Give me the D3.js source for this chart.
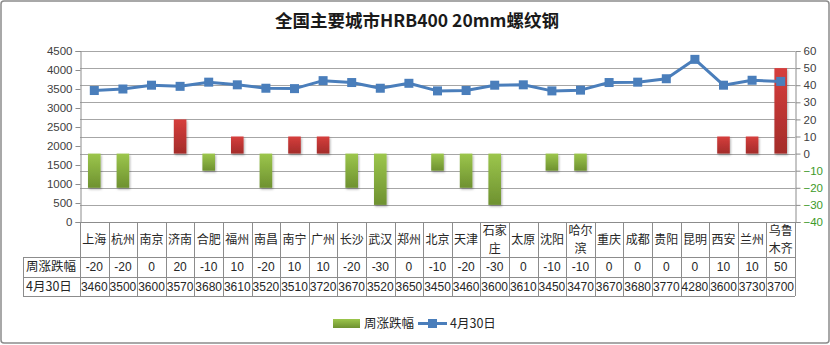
<!DOCTYPE html>
<html>
<head>
<meta charset="utf-8">
<script src="https://cdn.jsdelivr.net/npm/d3@7"></script>
<style>
  html, body { margin: 0; padding: 0; background: #fff; }
  svg { display: block; }
  text { font-family: "Liberation Sans", "Noto Sans CJK SC", sans-serif; }
  .cjk { font-family: "Noto Sans CJK SC", "Liberation Sans", sans-serif; }
</style>
</head>
<body>
<script>
// City list, weekly change (bars, right axis) and 30 April price (line, left axis)
const cities = ["上海","杭州","南京","济南","合肥","福州","南昌","南宁","广州","长沙","武汉","郑州","北京","天津","石家庄","太原","沈阳","哈尔滨","重庆","成都","贵阳","昆明","西安","兰州","乌鲁木齐"];
const weeklyChange = [-20,-20,0,20,-10,10,-20,10,10,-20,-30,0,-10,-20,-30,0,-10,-10,0,0,0,0,10,10,50];
const priceApr30 = [3460,3500,3600,3570,3680,3610,3520,3510,3720,3670,3520,3650,3450,3460,3600,3610,3450,3470,3670,3680,3770,4280,3600,3730,3700];
const leftTicks = [0,500,1000,1500,2000,2500,3000,3500,4000,4500];
const rightTicks = [-40,-30,-20,-10,0,10,20,30,40,50,60];
const seriesNames = ["周涨跌幅","4月30日"];
const title = "全国主要城市HRB400 20mm螺纹钢";

const W = 830, H = 345;
const plot = { left: 80, right: 795, top: 51, bottom: 222 };
const table = { labelLeft: 23, row0: 222, row1: 257, row2: 276.5, row3: 296 };

const svg = d3.select("body").append("svg").attr("width", W).attr("height", H);

// gradients for the bars
const defs = svg.append("defs");
function grad(id, c1, c2) {
  const g = defs.append("linearGradient").attr("id", id)
    .attr("x1", 0).attr("y1", 0).attr("x2", 0).attr("y2", 1);
  g.append("stop").attr("offset", "0%").attr("stop-color", c1);
  g.append("stop").attr("offset", "100%").attr("stop-color", c2);
}
grad("gGreen", "#9cc64c", "#6e9130");
grad("gRed", "#d63e3c", "#a32c2a");
const sh = defs.append("filter").attr("id", "shadow").attr("x", "-30%").attr("y", "-10%").attr("width", "160%").attr("height", "130%");
sh.append("feDropShadow").attr("dx", 1).attr("dy", 1.5).attr("stdDeviation", 1.2).attr("flood-color", "#000").attr("flood-opacity", 0.3);

// outer frame
svg.append("rect").attr("x", 1).attr("y", 1).attr("width", W - 2).attr("height", H - 3)
  .attr("fill", "#fff").attr("stroke", "#8c8c8c").attr("stroke-width", 1.5).attr("rx", 3);

// title
svg.append("text").attr("class", "cjk").attr("x", 417).attr("y", 27)
  .attr("text-anchor", "middle").attr("font-size", 17.5).attr("font-weight", 700)
  .attr("fill", "#1a1a1a").text(title);

const x = d3.scaleBand().domain(cities).range([plot.left, plot.right]).padding(0);
const yL = d3.scaleLinear().domain([0, 4500]).range([plot.bottom, plot.top]);
const yR = d3.scaleLinear().domain([-40, 60]).range([plot.bottom, plot.top]);

// horizontal gridlines follow the right-axis ticks
svg.append("g").selectAll("line").data(rightTicks.filter(d => d !== -40)).join("line")
  .attr("x1", plot.left).attr("x2", plot.right)
  .attr("y1", d => Math.round(yR(d)) + 0.5).attr("y2", d => Math.round(yR(d)) + 0.5)
  .attr("stroke", "#a6a6a6").attr("stroke-width", 1);

// left axis
const axL = svg.append("g").attr("transform", `translate(${plot.left + 0.5},0)`)
  .call(d3.axisLeft(yL).tickValues(leftTicks).tickSize(5).tickPadding(3).tickFormat(d3.format("d")));
axL.select(".domain").attr("stroke", "#8c8c8c");
axL.selectAll(".tick line").attr("stroke", "#8c8c8c");
axL.selectAll(".tick text").attr("font-size", 11.5).attr("fill", "#404040")
  .style("font-family", "Liberation Sans");

// right axis
const axR = svg.append("g").attr("transform", `translate(${plot.right + 0.5},0)`)
  .call(d3.axisRight(yR).tickValues(rightTicks).tickSize(5).tickPadding(3).tickFormat(d3.format("d")));
axR.select(".domain").attr("stroke", "#8c8c8c");
axR.selectAll(".tick line").attr("stroke", "#8c8c8c");
axR.selectAll(".tick text").attr("font-size", 11.5)
  .attr("fill", d => d < 0 ? "#3c9a28" : "#404040")
  .style("font-family", "Liberation Sans");

// bars: weekly change
const bw = x.bandwidth() * 0.44;
svg.append("g").selectAll("rect").data(cities.map((c, i) => ({ c, v: weeklyChange[i] })).filter(d => d.v !== 0))
  .join("rect")
  .attr("x", d => x(d.c) + (x.bandwidth() - bw) / 2)
  .attr("width", bw)
  .attr("y", d => Math.min(yR(d.v), yR(0)))
  .attr("height", d => Math.abs(yR(d.v) - yR(0)))
  .attr("fill", d => d.v < 0 ? "url(#gGreen)" : "url(#gRed)")
  .attr("filter", "url(#shadow)");

// line: 30 April price
const pts = cities.map((c, i) => [x(c) + x.bandwidth() / 2, yL(priceApr30[i])]);
svg.append("path").attr("d", d3.line()(pts)).attr("fill", "none")
  .attr("stroke", "#4a7ebb").attr("stroke-width", 3).attr("stroke-linejoin", "round");
const ms = 9;
svg.append("g").selectAll("rect").data(pts).join("rect")
  .attr("x", d => d[0] - ms / 2).attr("y", d => d[1] - ms / 2)
  .attr("width", ms).attr("height", ms).attr("fill", "#4a7ebb");

// data table under the category axis
const tg = svg.append("g");
const lc = "#8c8c8c";
// horizontal rules
tg.append("line").attr("x1", plot.left).attr("x2", plot.right).attr("y1", table.row0 + 0.5).attr("y2", table.row0 + 0.5).attr("stroke", lc);
[table.row1, table.row2, table.row3].forEach(y => {
  tg.append("line").attr("x1", table.labelLeft).attr("x2", plot.right)
    .attr("y1", Math.round(y) + 0.5).attr("y2", Math.round(y) + 0.5).attr("stroke", lc);
});
// vertical rules
tg.append("line").attr("x1", table.labelLeft + 0.5).attr("x2", table.labelLeft + 0.5)
  .attr("y1", table.row1).attr("y2", table.row3).attr("stroke", lc);
tg.selectAll("line.v").data(cities.concat(["__end"])).join("line").attr("class", "v")
  .attr("x1", (d, i) => Math.round(plot.left + i * x.bandwidth()) + 0.5)
  .attr("x2", (d, i) => Math.round(plot.left + i * x.bandwidth()) + 0.5)
  .attr("y1", table.row0).attr("y2", table.row3).attr("stroke", lc);

// city names (long names wrap after two characters, one text per line)
const cityLines = [];
cities.forEach(c => {
  const cx = x(c) + x.bandwidth() / 2;
  if (c.length <= 2) cityLines.push({ t: c, x: cx, y: 244 });
  else {
    cityLines.push({ t: c.slice(0, 2), x: cx, y: 235 });
    cityLines.push({ t: c.slice(2), x: cx, y: 253 });
  }
});
tg.append("g").selectAll("text").data(cityLines).join("text")
  .attr("class", "cjk").attr("text-anchor", "middle").attr("font-size", 12).attr("fill", "#262626")
  .attr("x", d => d.x).attr("y", d => d.y).text(d => d.t);

// row labels
const rowY = [(table.row1 + table.row2) / 2 + 4.5, (table.row2 + table.row3) / 2 + 4.5];
tg.selectAll("text.rl").data(seriesNames).join("text").attr("class", "rl cjk")
  .attr("x", table.labelLeft + 3).attr("y", (d, i) => rowY[i])
  .attr("font-size", 12.5).attr("fill", "#262626").text(d => d);

// row values
tg.selectAll("text.chg").data(weeklyChange).join("text").attr("class", "chg")
  .attr("x", (d, i) => x(cities[i]) + x.bandwidth() / 2).attr("y", rowY[0])
  .attr("text-anchor", "middle").attr("font-size", 12).attr("fill", "#262626").text(d => d);
tg.selectAll("text.pr").data(priceApr30).join("text").attr("class", "pr")
  .attr("x", (d, i) => x(cities[i]) + x.bandwidth() / 2).attr("y", rowY[1])
  .attr("text-anchor", "middle").attr("font-size", 12)
  .attr("fill", "#262626").text(d => d);

// legend
const lg = svg.append("g");
lg.append("rect").attr("x", 333).attr("y", 319).attr("width", 27).attr("height", 9).attr("fill", "url(#gGreen)");
lg.append("text").attr("class", "cjk").attr("x", 364).attr("y", 328).attr("font-size", 12.5).attr("fill", "#262626").text(seriesNames[0]);
lg.append("line").attr("x1", 418).attr("x2", 447).attr("y1", 323.5).attr("y2", 323.5).attr("stroke", "#4a7ebb").attr("stroke-width", 3);
lg.append("rect").attr("x", 428).attr("y", 319).attr("width", 9).attr("height", 9).attr("fill", "#4a7ebb");
lg.append("text").attr("class", "cjk").attr("x", 450).attr("y", 328).attr("font-size", 12.5).attr("fill", "#262626").text(seriesNames[1]);
</script>
</body>
</html>
